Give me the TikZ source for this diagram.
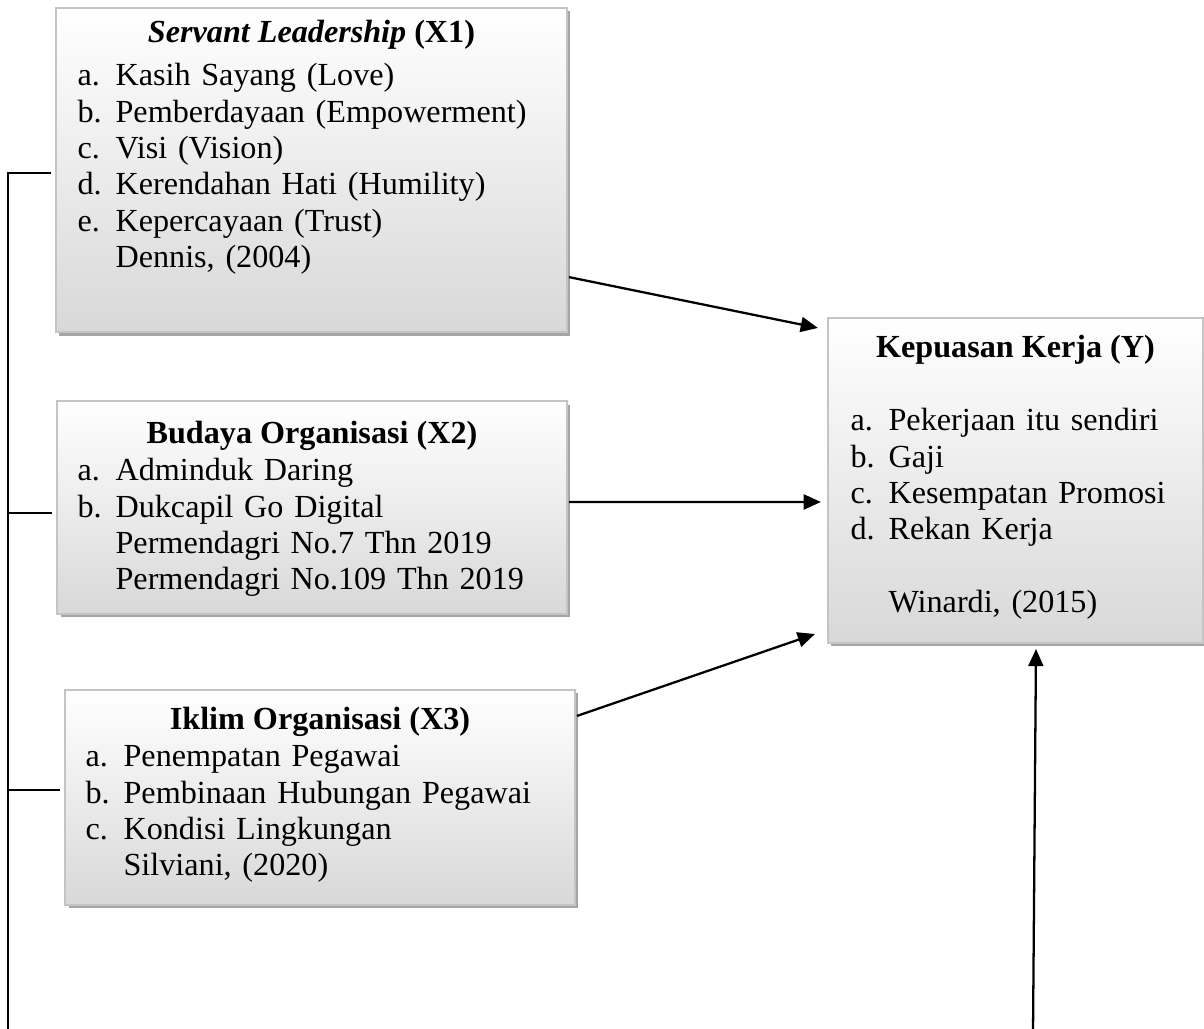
\documentclass[tikz,border=0pt]{standalone}
\usepackage{fontspec}
\setmainfont{Liberation Serif}
\usetikzlibrary{arrows.meta,shadows,calc}

\definecolor{boxline}{RGB}{196,196,196}
\definecolor{boxfill}{RGB}{216,216,216}
\definecolor{boxshade}{RGB}{165,165,165}

\newcommand{\itm}[2]{\makebox[14.2pt][l]{#1}#2}

\tikzset{
  varbox/.style={draw=boxline, line width=0.8pt, top color=white, bottom color=boxfill,
    drop shadow={shadow xshift=1.3pt, shadow yshift=-1.3pt, fill=boxshade, opacity=1},
    inner sep=0pt},
  boxtitle/.style={anchor=base, inner sep=0pt, font=\fontsize{12pt}{13.55pt}\selectfont\bfseries},
  boxlist/.style={anchor=north west, inner sep=0pt, align=left, text width=#1,
    font=\fontsize{12pt}{13.55pt}\selectfont},
  link/.style={line width=0.85pt},
  arrow/.style={link, -{Triangle[length=6.4pt,width=5.6pt]}}
}

\begin{document}
\begin{tikzpicture}[x=0.373pt, y=-0.373pt]
  \useasboundingbox (0,0) rectangle (1204,1029);

  % Variable boxes
  \node[varbox, minimum width=190.6pt, minimum height=120.9pt] (x1) at (311.5,170) {};
  \node[varbox, minimum width=190.2pt, minimum height=79.4pt] (x2) at (312,507.5) {};
  \node[varbox, minimum width=190.2pt, minimum height=80.2pt] (x3) at (320,797.5) {};
  \node[varbox, minimum width=139.9pt, minimum height=121.2pt] (y) at (1015.5,480.5) {};

  % Titles
  \node[boxtitle] (x1t) at (311.5,43) {\textit{Servant Leadership} (X1)};
  \node[boxtitle] (x2t) at (312,444) {Budaya Organisasi (X2)};
  \node[boxtitle] (x3t) at (320,730) {Iklim Organisasi (X3)};
  \node[boxtitle] (yt) at (1015.5,358) {Kepuasan Kerja (Y)};

  % Indicators
  \node[boxlist=175pt] (x1l) at (77,63) {\itm{a.}{Kasih Sayang (Love)}\\
    \itm{b.}{Pemberdayaan (Empowerment)}\\
    \itm{c.}{Visi (Vision)}\\
    \itm{d.}{Kerendahan Hati (Humility)}\\
    \itm{e.}{Kepercayaan (Trust)}\\
    \itm{}{Dennis, (2004)}};
  \node[boxlist=175pt] (x2l) at (77,458) {\itm{a.}{Adminduk Daring}\\
    \itm{b.}{Dukcapil Go Digital}\\
    \itm{}{Permendagri No.7 Thn 2019}\\
    \itm{}{Permendagri No.109 Thn 2019}};
  \node[boxlist=175pt] (x3l) at (85,745) {\itm{a.}{Penempatan Pegawai}\\
    \itm{b.}{Pembinaan Hubungan Pegawai}\\
    \itm{c.}{Kondisi Lingkungan}\\
    \itm{}{Silviani, (2020)}};
  \node[boxlist=125pt] (yl) at (850,408) {\itm{a.}{Pekerjaan itu sendiri}\\
    \itm{b.}{Gaji}\\
    \itm{c.}{Kesempatan Promosi}\\
    \itm{d.}{Rekan Kerja}\\
    \mbox{}\\
    \itm{}{Winardi, (2015)}};

  % Arrows to Y
  \draw[arrow] ($(x1.south east)+(1,-56)$) -- ($(y.north west)+(-9,11)$);
  \draw[arrow] ($(x2.east)+(1,-5.5)$) -- ($(y.west)+(-6,21.5)$);
  \draw[arrow] ($(x3.north east)+(1,27)$) -- ($(y.south west)+(-12,-10)$);
  \coordinate (yb) at (1033,1035);
  \draw[arrow] (yb) -- ($(y.south)+(20.5,5)$);

  % Bracket on the left
  \coordinate (b0) at (8,1035);
  \coordinate (b1) at (8,173);
  \draw[link] (b0) -- (b1) -- ($(x1.west |- b1)+(-4,0)$);
  \foreach \b/\y in {x2/513, x3/790} {
    \coordinate (s\b) at (8,\y);
    \draw[link] (s\b) -- ($(\b.west |- s\b)+(-4,0)$);
  }
\end{tikzpicture}
\end{document}
